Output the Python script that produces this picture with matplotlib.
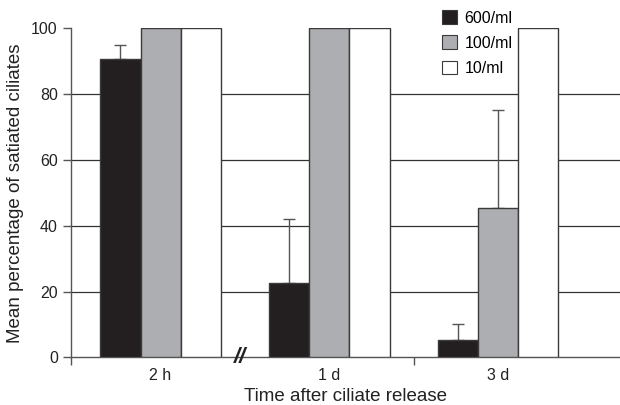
import matplotlib
matplotlib.use("Agg")
import matplotlib.pyplot as plt
from matplotlib.patches import Patch

plt.rcParams["font.family"] = ["Liberation Sans", "DejaVu Sans"]

groups = ["2 h", "1 d", "3 d"]
labels = ["600/ml", "100/ml", "10/ml"]
mean_600 = [90.6, 22.5, 5.3]
err_600 = [4.2, 19.5, 4.7]
mean_100 = [100, 100, 45.4]
err_100 = [0, 0, 29.8]
mean_10 = [100, 100, 100]

colors = ["#231f20", "#adaeb1", "#ffffff"]
edge = "#3a3a3a"

fig = plt.figure(figsize=(6.2, 4.05), dpi=100)
ax = fig.add_axes([0.1145, 0.1178, 0.8855, 0.8122])

x = list(range(len(groups)))
w = 0.237
series = [(mean_600, err_600), (mean_100, err_100), (mean_10, None)]
for i, (vals, errs) in enumerate(series):
    pos = [xi + (i - 1) * w for xi in x]
    ax.bar(pos, vals, width=w, color=colors[i], edgecolor=edge, linewidth=1.0, zorder=3)
    if errs is not None:
        ep = [p for p, e in zip(pos, errs) if e > 0]
        ev = [v for v, e in zip(vals, errs) if e > 0]
        ee = [e for e in errs if e > 0]
        ax.errorbar(ep, ev, yerr=[[0] * len(ee), ee], fmt="none", ecolor="#555555",
                    elinewidth=1.0, capsize=4.5, capthick=1.0, zorder=2)

ax.set_xlim(-0.53, 2.72)
ax.set_ylim(0, 100)
ax.set_yticks([0, 20, 40, 60, 80, 100])
for y in [20, 40, 60, 80]:
    ax.axhline(y, color="#333333", linewidth=0.9, zorder=1)

ax.set_xticks(x)
ax.set_xticklabels(groups)
ax.set_xticks([-0.53, 1.5], minor=True)
ax.tick_params(axis="x", which="major", length=0, pad=8, labelsize=11.5, colors="#222222")
ax.tick_params(axis="x", which="minor", length=6, width=1.0, color="#555555", direction="out")
ax.tick_params(axis="y", length=6, width=1.0, color="#555555", labelsize=11.5, labelcolor="#222222")

for side in ["top", "right"]:
    ax.spines[side].set_visible(False)
for side in ["left", "bottom"]:
    ax.spines[side].set_color("#555555")
    ax.spines[side].set_linewidth(1.0)

# axis break mark between the first and second group
ax.text(0.47, 0, "//", fontsize=16, fontstyle="italic", fontweight="bold", ha="center",
        va="center", color="#222222", clip_on=False, zorder=5)

ax.set_ylabel("Mean percentage of satiated ciliates", fontsize=13.5, color="#222222", labelpad=5)
ax.set_xlabel("Time after ciliate release", fontsize=13.5, color="#222222", labelpad=3)

handles = [Patch(facecolor=c, edgecolor=edge, linewidth=0.8) for c in colors]
ax.legend(handles, labels, loc="upper left", bbox_to_anchor=(0.713, 0.975),
          bbox_transform=fig.transFigure, frameon=False, fontsize=11.5,
          handlelength=0.95, handleheight=0.95, handletextpad=0.45,
          labelspacing=0.62, borderpad=0, borderaxespad=0)

fig.savefig("out.png", dpi=100)
